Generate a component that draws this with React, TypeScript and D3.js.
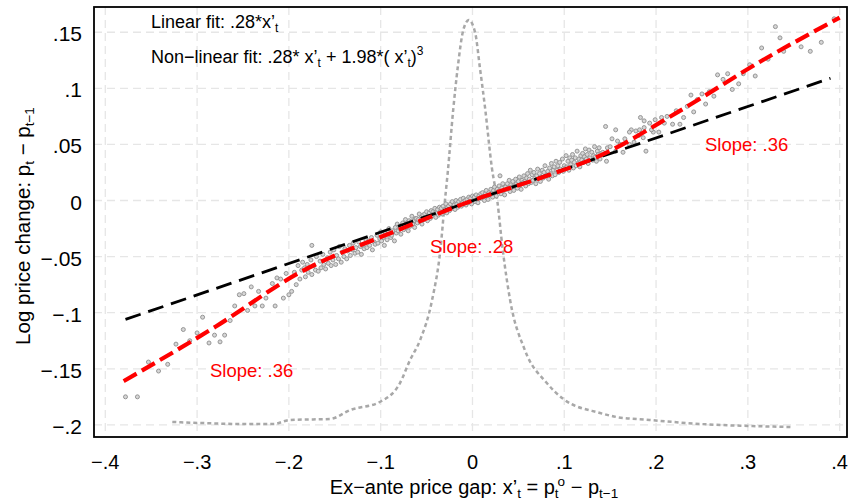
import * as d3 from 'd3';
import { useEffect, useRef } from 'react';

// axis ticks
const xTicks = [-0.4, -0.3, -0.2, -0.1, 0, 0.1, 0.2, 0.3, 0.4];
const xTickLabels = ['−.4', '−.3', '−.2', '−.1', '0', '.1', '.2', '.3', '.4'];
const yTicks = [-0.2, -0.15, -0.1, -0.05, 0, 0.05, 0.1, 0.15];
const yTickLabels = ['−.2', '−.15', '−.1', '−.05', '0', '.05', '.1', '.15'];

// fitted lines
const linearFitX = [-0.378, 0.39];
const linearFitY = [-0.106, 0.109];
const nonLinearX = [-0.38, -0.28, -0.19, -0.08, 0, 0.07, 0.139, 0.224, 0.316, 0.4];
const nonLinearY = [-0.161, -0.1125, -0.065, -0.026, 0, 0.019, 0.04, 0.079, 0.125, 0.163];

// kernel density of x (drawn in the y units of the plot)
const densityX = [-0.327, -0.297, -0.253, -0.217, -0.199, -0.155, -0.133, -0.101, -0.079, -0.068, -0.057,
  -0.044, -0.035, -0.03, -0.027, -0.021, -0.016, -0.01, -0.004, 0.003, 0.008, 0.014, 0.021, 0.027, 0.033,
  0.041, 0.057, 0.081, 0.099, 0.139, 0.157, 0.193, 0.248, 0.302, 0.349];
const densityY = [-0.1974, -0.1983, -0.1992, -0.1992, -0.1956, -0.1947, -0.1867, -0.1796, -0.1627, -0.1422, -0.1243,
  -0.0887, -0.0441, 0, 0.0245, 0.0807, 0.119, 0.152, 0.1609, 0.1493, 0.119, 0.0807, 0.0299, 0, -0.0441,
  -0.0887, -0.1332, -0.1627, -0.1769, -0.1894, -0.193, -0.1956, -0.1992, -0.201, -0.2019];

// observations, in thousandths: [gap, price change]
const pointsLeft = [
  [-378, -175], [-365, -175], [-353, -144], [-342, -152], [-332, -146], [-323, -128], [-315, -115], [-308, -125],
  [-300, -118], [-294, -104], [-287, -127], [-281, -120], [-275, -126], [-270, -120], [-264, -107], [-259, -94],
  [-254, -84], [-249, -83], [-245, -98], [-241, -77], [-237, -94], [-233, -81], [-229, -94], [-225, -87],
  [-218, -74], [-215, -94], [-213, -69], [-209, -70], [-206, -87], [-203, -65], [-200, -84], [-197, -81],
  [-194, -64], [-192, -75], [-175, -40],
];
const pointsCore = [
  [-190, -58], [-188, -70], [-186, -62], [-185, -55], [-183, -60], [-182, -68], [-180, -57], [-179, -64],
  [-176, -53], [-175, -66], [-173, -58], [-171, -62], [-170, -50], [-168, -63], [-166, -54], [-165, -60],
  [-163, -48], [-162, -57], [-160, -61], [-158, -51], [-157, -56], [-155, -46], [-154, -58], [-152, -53],
  [-151, -44], [-149, -57], [-148, -49], [-146, -52], [-145, -41], [-143, -55], [-142, -46], [-140, -50],
  [-139, -43], [-137, -52], [-136, -45], [-134, -40], [-133, -49], [-131, -44], [-130, -38], [-128, -47],
  [-127, -42], [-125, -46], [-124, -37], [-122, -41], [-121, -48], [-119, -39], [-118, -43], [-116, -35],
  [-115, -42], [-113, -36], [-112, -40], [-110, -33], [-109, -44], [-107, -37], [-106, -39], [-104, -31],
  [-103, -38], [-101, -34], [-100, -28], [-99, -36], [-97, -33], [-96, -40], [-95, -29], [-93, -35],
  [-92, -30], [-91, -25], [-89, -33], [-88, -31], [-87, -27], [-85, -36], [-84, -24], [-83, -29],
  [-82, -21], [-81, -27], [-79, -25], [-78, -30], [-77, -22], [-76, -20], [-75, -26], [-74, -23],
  [-73, -17], [-72, -24], [-71, -20], [-70, -27], [-69, -18], [-68, -23], [-67, -19], [-66, -14],
  [-65, -21], [-64, -18], [-63, -24], [-62, -16], [-61, -16], [-60, -20], [-59, -17], [-58, -12],
  [-57, -19], [-56, -15], [-55, -21], [-54, -13], [-53, -17], [-52, -12], [-51, -15], [-50, -10],
  [-49, -18], [-48, -14], [-47, -11], [-46, -16], [-45, -9], [-44, -14], [-43, -10], [-42, -12],
  [-41, -7], [-40, -15], [-39, -11], [-38, -8], [-37, -13], [-36, -6], [-35, -10], [-34, -7],
  [-33, -12], [-32, -5], [-31, -9], [-30, -8], [-29, -3], [-28, -11], [-27, -6], [-26, -5],
  [-25, -9], [-24, -3], [-23, -7], [-22, -1], [-21, -6], [-20, -4], [-19, -8], [-18, 0],
  [-17, -3], [-16, -6], [-15, -1], [-14, -4], [-13, 1], [-12, -5], [-11, -2], [-10, 2],
  [-9, -3], [-8, 0], [-7, -4], [-6, 1], [-5, -2], [-4, 3], [-3, -1], [-2, 2],
  [-1, -3], [0, 4], [1, 0], [2, 3], [3, -1], [4, 5], [5, 1], [6, -2],
  [7, 4], [8, 2], [9, 6], [10, 2], [11, 7], [12, 3], [13, 0], [14, 6],
  [15, 9], [16, 4], [17, 1], [18, 7], [19, 5], [20, 10], [21, 6], [22, 3],
  [23, 9], [24, 12], [25, 7], [26, 4], [27, 10], [28, 8], [29, 13], [30, 22],
  [31, 6], [32, 11], [33, 15], [34, 9], [35, 5], [36, 12], [37, 10], [38, 15],
  [39, 11], [40, 18], [41, 8], [42, 14], [43, 12], [44, 17], [45, 9], [46, 13],
  [47, 19], [48, 15], [49, 11], [50, 17], [51, 21], [52, 14], [53, 10], [54, 18],
  [55, 16], [56, 22], [57, 17], [58, 13], [59, 20], [60, 24], [61, 15], [62, 19],
  [63, 27], [64, 16], [65, 23], [66, 18], [67, 25], [68, 20], [69, 15], [70, 22],
  [71, 28], [72, 19], [73, 24], [74, 17], [75, 21], [76, 27], [77, 20], [78, 25],
  [79, 31], [80, 22], [82, 26], [83, 19], [84, 29], [85, 24], [86, 33], [87, 22],
  [88, 27], [89, 30], [90, 23], [91, 35], [92, 27], [93, 31], [94, 25], [95, 34],
  [96, 28], [98, 37], [99, 26], [100, 31], [101, 29], [102, 40], [103, 30], [104, 35],
  [105, 27], [106, 38], [107, 32], [108, 36], [109, 41], [110, 29], [111, 34], [112, 38],
  [113, 31], [114, 44], [115, 33], [116, 37], [117, 30], [118, 40], [119, 36], [120, 42],
  [121, 34], [122, 39], [123, 46], [124, 37], [125, 41], [126, 33], [127, 45], [128, 38],
  [130, 43], [131, 36], [132, 40], [133, 48], [134, 39], [135, 35], [136, 44], [137, 41],
  [138, 47], [139, 37], [140, 42],
];
const pointsRight = [
  [394, 162], [330, 155], [315, 136], [322, 126], [339, 133], [358, 137], [368, 133], [380, 141],
  [302, 121], [295, 113], [308, 111], [267, 112], [278, 113], [273, 108], [283, 99], [263, 93],
  [250, 95], [238, 94], [245, 90], [254, 86], [241, 79], [230, 74], [226, 68], [218, 68],
  [209, 69], [206, 74], [199, 72], [187, 71], [183, 74], [193, 69], [197, 61], [187, 65],
  [182, 63], [178, 62], [173, 63], [171, 61], [156, 63], [145, 66], [152, 55], [161, 50],
  [189, 44], [171, 50], [164, 43], [156, 44], [147, 47], [142, 43], [146, 35], [150, 48],
  [158, 53], [166, 55], [176, 52], [181, 58], [186, 56], [195, 63], [203, 61], [212, 75],
  [222, 80], [234, 84], [258, 97], [290, 104], [335, 145],
];

const W = 850;
const H = 500;
const FONT = '"Liberation Sans", Arial, Helvetica, sans-serif';

function drawChart(svgEl: SVGSVGElement) {
  const svg = d3.select(svgEl);
  svg.selectAll('g.plot').remove();

  const x = d3.scaleLinear().domain([-0.4123, 0.408]).range([94, 847]);
  const y = d3.scaleLinear().domain([-0.2108, 0.1725]).range([437, 7]);

  const g = svg.insert('g', ':first-child').attr('class', 'plot');

  // grid
  g.selectAll('line.vgrid').data(xTicks).enter().append('line')
    .attr('x1', d => x(d)).attr('x2', d => x(d))
    .attr('y1', y.range()[1]).attr('y2', y.range()[0])
    .attr('stroke', '#e6e6e6').attr('stroke-width', 1.3).attr('stroke-dasharray', '8,5');
  g.selectAll('line.hgrid').data(yTicks).enter().append('line')
    .attr('x1', x.range()[0]).attr('x2', x.range()[1])
    .attr('y1', d => y(d)).attr('y2', d => y(d))
    .attr('stroke', '#e6e6e6').attr('stroke-width', 1.3).attr('stroke-dasharray', '8,5');

  // density
  const dens = densityX.map((d, i) => [d, densityY[i]] as [number, number]);
  g.append('path')
    .attr('d', d3.line<[number, number]>().x(d => x(d[0])).y(d => y(d[1])).curve(d3.curveMonotoneX)(dens))
    .attr('fill', 'none').attr('stroke', '#a8a8a8').attr('stroke-width', 2.5)
    .attr('stroke-dasharray', '4,3');

  // scatter
  const pts = [...pointsLeft, ...pointsCore, ...pointsRight];
  g.selectAll('circle').data(pts).enter().append('circle')
    .attr('cx', d => x(d[0] / 1000)).attr('cy', d => y(d[1] / 1000)).attr('r', 2)
    .attr('fill', '#d6d6d6').attr('stroke', '#969696').attr('stroke-width', 1);

  // linear fit
  const lin = linearFitX.map((d, i) => [d, linearFitY[i]] as [number, number]);
  g.append('path')
    .attr('d', d3.line<[number, number]>().x(d => x(d[0])).y(d => y(d[1]))(lin))
    .attr('fill', 'none').attr('stroke', '#000').attr('stroke-width', 2.8)
    .attr('stroke-dasharray', '16,8');

  // non-linear fit
  const nl = nonLinearX.map((d, i) => [d, nonLinearY[i]] as [number, number]);
  g.append('path')
    .attr('d', d3.line<[number, number]>().x(d => x(d[0])).y(d => y(d[1])).curve(d3.curveMonotoneX)(nl))
    .attr('fill', 'none').attr('stroke', '#ff0000').attr('stroke-width', 4.2)
    .attr('stroke-dasharray', '15,6');

  // tick labels
  g.selectAll('text.xt').data(xTicks).enter().append('text')
    .attr('x', d => x(d)).attr('y', 469).attr('text-anchor', 'middle')
    .attr('font-family', FONT).attr('font-size', 20)
    .text((d, i) => xTickLabels[i]);
  g.selectAll('text.yt').data(yTicks).enter().append('text')
    .attr('x', 82).attr('y', d => y(d) + 9).attr('text-anchor', 'end')
    .attr('font-family', FONT).attr('font-size', 21)
    .text((d, i) => yTickLabels[i]);

  // frame
  g.append('rect')
    .attr('x', x.range()[0]).attr('y', y.range()[1])
    .attr('width', x.range()[1] - x.range()[0]).attr('height', y.range()[0] - y.range()[1])
    .attr('fill', 'none').attr('stroke', '#000').attr('stroke-width', 1.8);
}

export default function App() {
  const ref = useRef<SVGSVGElement>(null);
  useEffect(() => {
    if (ref.current) drawChart(ref.current);
  }, []);

  const sub = { fontSize: 12 };
  const sub2 = { fontSize: 13.5 };
  return (
    <svg ref={ref} width={W} height={H}
      style={{ position: 'absolute', left: 0, top: 0, background: '#fff' }}
      fontFamily={FONT}>
      <text x={151} y={28} fontSize={18}>
        <tspan>Linear fit: .28*x’</tspan>
        <tspan dy={4} style={sub}>t</tspan>
      </text>
      <text x={151} y={63} fontSize={18}>
        <tspan>Non−linear fit: .28* x’</tspan>
        <tspan dy={4} style={sub}>t</tspan>
        <tspan dy={-4}> + 1.98*( x’</tspan>
        <tspan dy={4} style={sub}>t</tspan>
        <tspan dy={-4}>)</tspan>
        <tspan dy={-8} style={sub}>3</tspan>
      </text>
      <g fill="#ff0000" fontSize={18.5}>
        <text x={210} y={377}>Slope: .36</text>
        <text x={430} y={253}>Slope: .28</text>
        <text x={705} y={151}>Slope: .36</text>
      </g>
      <text x={474} y={494} textAnchor="middle" fontSize={20}>
        <tspan>Ex−ante price gap: x’</tspan>
        <tspan dy={4} style={sub2}>t</tspan>
        <tspan dy={-4}> = p</tspan>
        <tspan dy={4} style={sub2}>t</tspan>
        <tspan dy={-12} dx={-1} style={sub2}>o</tspan>
        <tspan dy={8}> − p</tspan>
        <tspan dy={4} style={sub2}>t−1</tspan>
      </text>
      <text transform="translate(30,226) rotate(-90)" textAnchor="middle" fontSize={20.5}>
        <tspan>Log price change: p</tspan>
        <tspan dy={4} style={sub2}>t</tspan>
        <tspan dy={-4}> − p</tspan>
        <tspan dy={4} style={sub2}>t−1</tspan>
      </text>
    </svg>
  );
}
